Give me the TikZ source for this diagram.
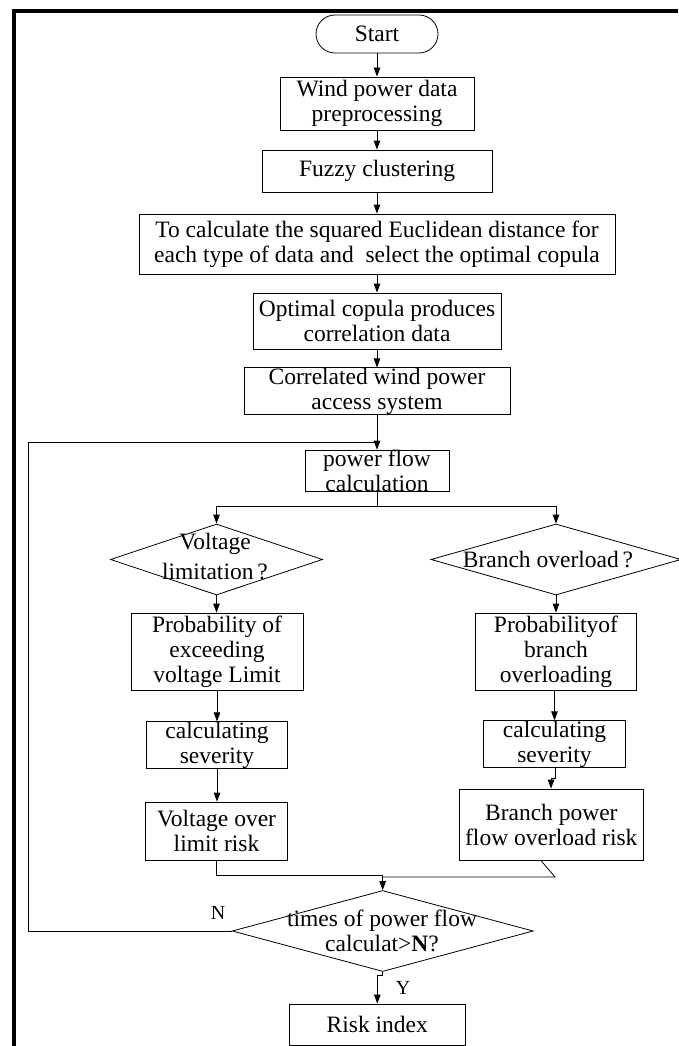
\documentclass[tikz,border=0pt]{standalone}
\usepackage{fontspec}
\setmainfont{Liberation Serif}
\usetikzlibrary{arrows.meta,shapes.geometric}
\begin{document}
\begin{tikzpicture}[x=1pt,y=-1pt,
  box/.style={draw, line width=0.8pt, inner sep=0pt, align=center, font=\fontsize{23.5}{25}\selectfont},
  dia/.style={draw, diamond, line width=0.8pt, inner sep=0pt},
  txt/.style={align=center, inner sep=0pt, font=\fontsize{23.5}{25}\selectfont},
  lbl/.style={inner sep=0pt, font=\fontsize{20}{22}\selectfont},
  arr/.style={line width=0.8pt, -{Triangle[length=9pt,width=6.5pt]}},
  ln/.style={line width=0.8pt}]
\useasboundingbox (0,0) rectangle (678,1046);
\fill[white] (0,0) rectangle (678,1046);
\draw[line width=4pt] (14,1046) -- (14,11) -- (678,11);

% main column
\node[box, rounded corners=19pt, minimum width=122pt, minimum height=38pt] (start) at (377,34) {Start};
\node[box, minimum width=194pt, minimum height=53pt] (wind) at (377,103.5) {Wind power data\\preprocessing};
\node[box, minimum width=230pt, minimum height=42pt] (fuzzy) at (377,171) {Fuzzy clustering};
\node[box, minimum width=476pt, minimum height=60pt] (eucl) at (377,244) {To calculate the squared Euclidean distance for\\each type of data and\ \ select the optimal copula};
\node[box, minimum width=248pt, minimum height=56pt] (opt) at (377,321) {Optimal copula produces\\correlation data};
\node[box, minimum width=266pt, minimum height=46pt] (corr) at (377,391) {Correlated wind power\\access system};
\node[box, minimum width=144pt, minimum height=36pt] (pf) at (377,471) {power flow\\calculation};

% left branch
\node[dia, minimum width=212pt, minimum height=71pt] (ldia) at (216.5,559.5) {};
\node[txt, font=\fontsize{23.5}{30}\selectfont] (ldiat) at (215,557) {Voltage\\limitation\,?};
\node[box, minimum width=172pt, minimum height=77pt] (lprob) at (217,651.5) {Probability of\\exceeding\\voltage Limit};
\node[box, minimum width=140.5pt, minimum height=44pt] (lcalc) at (217,745) {calculating\\severity};
\node[box, minimum width=142.5pt, minimum height=58pt] (lrisk) at (216.5,831) {Voltage over\\limit risk};

% right branch
\node[dia, minimum width=250pt, minimum height=71pt] (rdia) at (556,559.5) {};
\node[txt] (rdiat) at (548,560) {Branch overload\,?};
\node[box, minimum width=161pt, minimum height=77pt] (rprob) at (556,651.5) {Probabilityof\\branch\\overloading};
\node[box, minimum width=142pt, minimum height=46pt] (rcalc) at (554.5,744) {calculating\\severity};
\node[box, minimum width=183.4pt, minimum height=71pt] (rrisk) at (551.3,824.5) {Branch power\\flow overload risk};

% bottom
\node[dia, minimum width=301pt, minimum height=81pt] (bdia) at (382.7,931) {};
\node[txt] (bdiat) at (382,931) {times of power flow\\calculat>\textbf{N}?};
\node[box, minimum width=176.7pt, minimum height=41pt] (risk) at (377.3,1024.5) {Risk index};
\node[lbl] (nlab) at (218,913) {N};
\node[lbl] (ylab) at (403,988) {Y};

% connectors main column
\draw[arr] (start) -- (wind);
\draw[arr] (wind) -- (fuzzy);
\draw[arr] (fuzzy) -- (eucl);
\draw[arr] (eucl) -- (opt);
\draw[arr] (opt) -- (corr);
\draw[arr] (corr) -- (pf);

% loop back
\coordinate (loopend) at (377,442.7);
\draw[ln] (bdia.west) -- (28,931) |- (loopend);

% split
\coordinate (split) at (377,506);
\draw[ln] (pf.south) -- (split);
\draw[arr] (split) -| (ldia.north);
\draw[arr] (split) -| (rdia.north);

% left chain
\draw[arr] (ldia.south) -- (ldia.south |- lprob.north);
\draw[arr] (lprob.south -| lcalc.north) -- (lcalc.north);
\draw[arr] (lcalc.south) -- (lcalc.south |- lrisk.north);

% right chain
\draw[arr] (rdia.south) -- (rprob.north);
\draw[arr] (rprob.south -| rcalc.north) -- (rcalc.north);
\coordinate (rj1) at (555,767);
\coordinate (rj2) at (555,778);
\coordinate (rj3) at (551,778);
\draw[arr] (rj1) -- (rj2) -- (rj3) -- (rj3 |- rrisk.north);

% merge
\coordinate (mg) at (382.7,875);
\coordinate (mr) at (555,877);
\coordinate (rb) at (540.5,860);
\draw[ln] (lrisk.south) |- (mg);
\draw[ln] (rb) -- (mr) -- (mr -| mg);
\draw[arr] (mg) -- (bdia.north);

% to risk index
\coordinate (bj) at (382.7,975);
\draw[ln] (bdia.south) -- (bj);
\draw[arr] (bj) -- (377.3,975) -- (risk.north);
\end{tikzpicture}
\end{document}
